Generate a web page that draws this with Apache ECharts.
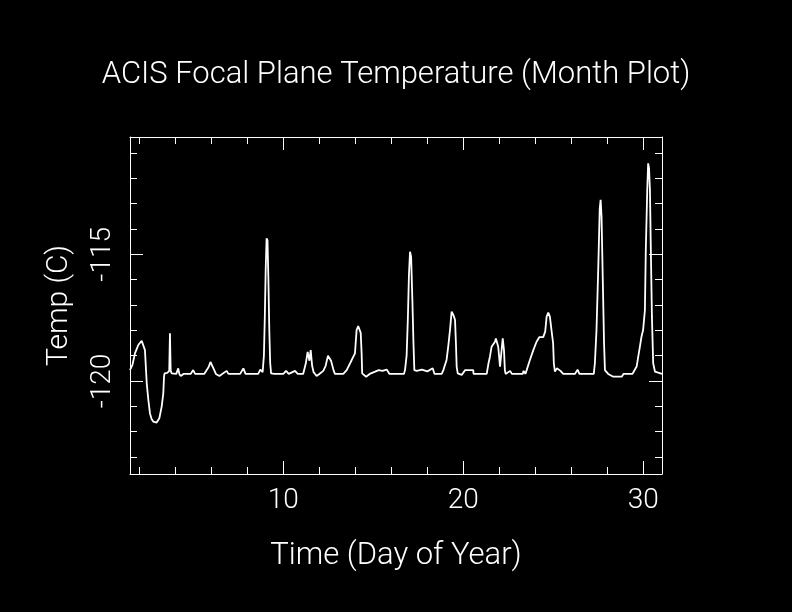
<!DOCTYPE html>
<html>
<head>
<meta charset="utf-8">
<script src="https://cdn.jsdelivr.net/npm/echarts@6/dist/echarts.min.js"></script>
<style>
html,body{margin:0;padding:0;background:#000;}
#chart{width:792px;height:612px;}
</style>
</head>
<body>
<div id="chart"></div>
<script>
// Time in day of year
var days = [
1.48,1.62,1.76,1.94,2.13,2.22,2.31,2.37,2.41,2.50,2.59,2.68,2.77,2.96,3.11,3.24,3.33,3.37,3.40,3.55,
3.66,3.70,3.74,3.80,4.05,4.16,4.22,4.30,4.45,4.85,4.99,5.10,5.60,5.85,5.95,6.05,6.15,6.25,6.45,6.60,
6.85,6.95,7.60,7.78,7.90,8.60,8.72,8.85,8.92,8.97,9.02,9.07,9.12,9.17,9.22,9.27,9.32,9.50,10.00,10.15,
10.30,10.65,10.80,11.10,11.25,11.35,11.45,11.52,11.60,11.68,11.85,12.00,12.22,12.35,12.48,12.55,12.65,12.80,12.87,13.33,
13.52,13.80,13.98,14.07,14.16,14.25,14.30,14.35,14.38,14.60,14.80,15.30,15.50,15.75,15.90,16.70,16.76,16.85,16.92,16.98,
17.04,17.10,17.17,17.23,17.28,17.41,17.70,18.00,18.30,18.40,18.80,18.89,19.07,19.16,19.26,19.35,19.42,19.48,19.54,19.59,
19.63,19.69,19.91,20.10,20.55,20.57,21.30,21.40,21.48,21.57,21.76,21.81,21.94,22.04,22.10,22.19,22.26,22.31,22.35,22.60,
22.70,23.30,23.35,23.45,23.52,23.70,23.89,24.07,24.22,24.44,24.55,24.63,24.72,24.81,24.90,24.99,25.03,25.09,25.20,25.40,
25.55,26.20,26.35,26.45,27.25,27.31,27.40,27.50,27.58,27.63,27.68,27.75,27.82,27.87,27.96,28.05,28.33,28.80,28.90,29.40,
29.63,29.72,29.81,29.90,29.99,30.09,30.14,30.22,30.27,30.32,30.37,30.42,30.48,30.55,30.65,31.04
];
// Focal plane temperature (C)
var temps = [
-119.57,-119.35,-118.90,-118.58,-118.41,-118.38,-118.78,-119.57,-120.09,-120.75,-121.28,-121.50,-121.60,-121.64,-121.47,-121.01,-120.49,-119.83,-119.70,-119.68,
-119.60,-118.12,-119.60,-119.70,-119.72,-119.50,-119.72,-119.80,-119.72,-119.72,-119.57,-119.72,-119.72,-119.45,-119.25,-119.30,-119.55,-119.72,-119.80,-119.72,
-119.60,-119.72,-119.72,-119.50,-119.72,-119.72,-119.55,-119.65,-119.00,-117.50,-115.60,-114.37,-114.45,-116.00,-118.00,-119.30,-119.70,-119.72,-119.72,-119.60,
-119.72,-119.60,-119.72,-119.72,-119.30,-118.85,-119.20,-118.78,-119.40,-119.65,-119.80,-119.72,-119.60,-119.40,-119.00,-118.97,-119.20,-119.60,-119.72,-119.72,
-119.57,-119.17,-118.91,-117.99,-117.83,-117.90,-118.10,-118.91,-119.70,-119.83,-119.72,-119.57,-119.60,-119.55,-119.72,-119.72,-119.57,-119.00,-117.50,-115.80,
-114.90,-115.10,-116.80,-118.50,-119.57,-119.60,-119.55,-119.62,-119.50,-119.72,-119.72,-119.57,-119.17,-118.65,-117.99,-117.26,-117.35,-117.46,-117.59,-118.51,
-119.43,-119.70,-119.76,-119.57,-119.57,-119.72,-119.72,-119.30,-119.04,-118.65,-118.45,-118.32,-118.65,-119.43,-119.40,-118.32,-118.78,-119.57,-119.72,-119.60,
-119.72,-119.72,-119.60,-119.72,-119.57,-119.17,-118.78,-118.45,-118.27,-118.27,-118.05,-117.46,-117.30,-117.46,-117.99,-118.51,-119.30,-119.63,-119.50,-119.60,
-119.72,-119.72,-119.55,-119.72,-119.72,-119.30,-118.00,-115.50,-113.20,-112.85,-113.50,-116.00,-118.50,-119.57,-119.60,-119.72,-119.83,-119.83,-119.72,-119.72,
-119.43,-119.04,-118.65,-118.25,-117.99,-117.20,-114.83,-112.46,-111.41,-111.60,-112.46,-114.83,-117.46,-119.30,-119.63,-119.72
];
var xMajorTicks = [10, 20, 30];
var xMinorTicks = [2, 4, 6, 8, 12, 14, 16, 18, 22, 24, 26, 28];
var yMajorTicks = [-120, -115];
var yMinorTicks = [-123, -122, -121, -119, -118, -117, -116, -114, -113, -112, -111];
var xRange = [1.48, 31.04];
var yRange = [-123.67, -110.37];

var FONT = 'Roboto';
var WHITE = '#ffffff';

function axisDef(dim, pos, ticks, len, showLine, labels, extra) {
  var a = {
    type: 'value',
    position: pos,
    min: dim === 'x' ? xRange[0] : yRange[0],
    max: dim === 'x' ? xRange[1] : yRange[1],
    splitLine: {show: false},
    axisLine: {show: showLine, onZero: false, lineStyle: {color: WHITE, width: 1}},
    axisTick: {show: true, inside: true, length: len, customValues: ticks, lineStyle: {color: WHITE, width: 1}},
    axisLabel: labels ? labels : {show: false}
  };
  if (extra) { for (var k in extra) a[k] = extra[k]; }
  return a;
}

var chart = echarts.init(document.getElementById('chart'));
chart.setOption({
  backgroundColor: '#000000',
  animation: false,
  title: {
    text: 'ACIS Focal Plane Temperature (Month Plot)',
    left: 'center',
    top: 55,
    textStyle: {fontFamily: FONT, fontSize: 31, fontWeight: 300, color: WHITE}
  },
  grid: {left: 130, right: 130, top: 137, bottom: 138, containLabel: false},
  xAxis: [
    axisDef('x', 'bottom', xMajorTicks, 13, true,
      {show: true, customValues: xMajorTicks, margin: 13, fontFamily: FONT, fontSize: 28, fontWeight: 300, color: WHITE},
      {name: 'Time (Day of Year)', nameLocation: 'middle', nameGap: 67,
       nameTextStyle: {fontFamily: FONT, fontSize: 31, fontWeight: 300, color: WHITE}}),
    axisDef('x', 'bottom', xMinorTicks, 7, false, null),
    axisDef('x', 'top', xMajorTicks, 13, true, null),
    axisDef('x', 'top', xMinorTicks, 7, false, null)
  ],
  yAxis: [
    axisDef('y', 'left', yMajorTicks, 13, true,
      {show: true, customValues: yMajorTicks, rotate: 90, margin: 13, fontFamily: FONT, fontSize: 28, fontWeight: 300, color: WHITE},
      {name: 'Temp (C)', nameLocation: 'middle', nameGap: 56, nameRotate: 90,
       nameTextStyle: {fontFamily: FONT, fontSize: 30, fontWeight: 300, color: WHITE}}),
    axisDef('y', 'left', yMinorTicks, 7, false, null),
    axisDef('y', 'right', yMajorTicks, 13, true, null),
    axisDef('y', 'right', yMinorTicks, 7, false, null)
  ],
  series: [{
    type: 'line',
    xAxisIndex: 0,
    yAxisIndex: 0,
    data: days.map(function (d, i) { return [d, temps[i]]; }),
    symbol: 'none',
    lineStyle: {color: WHITE, width: 1.8},
    silent: true
  }]
});
</script>
</body>
</html>
